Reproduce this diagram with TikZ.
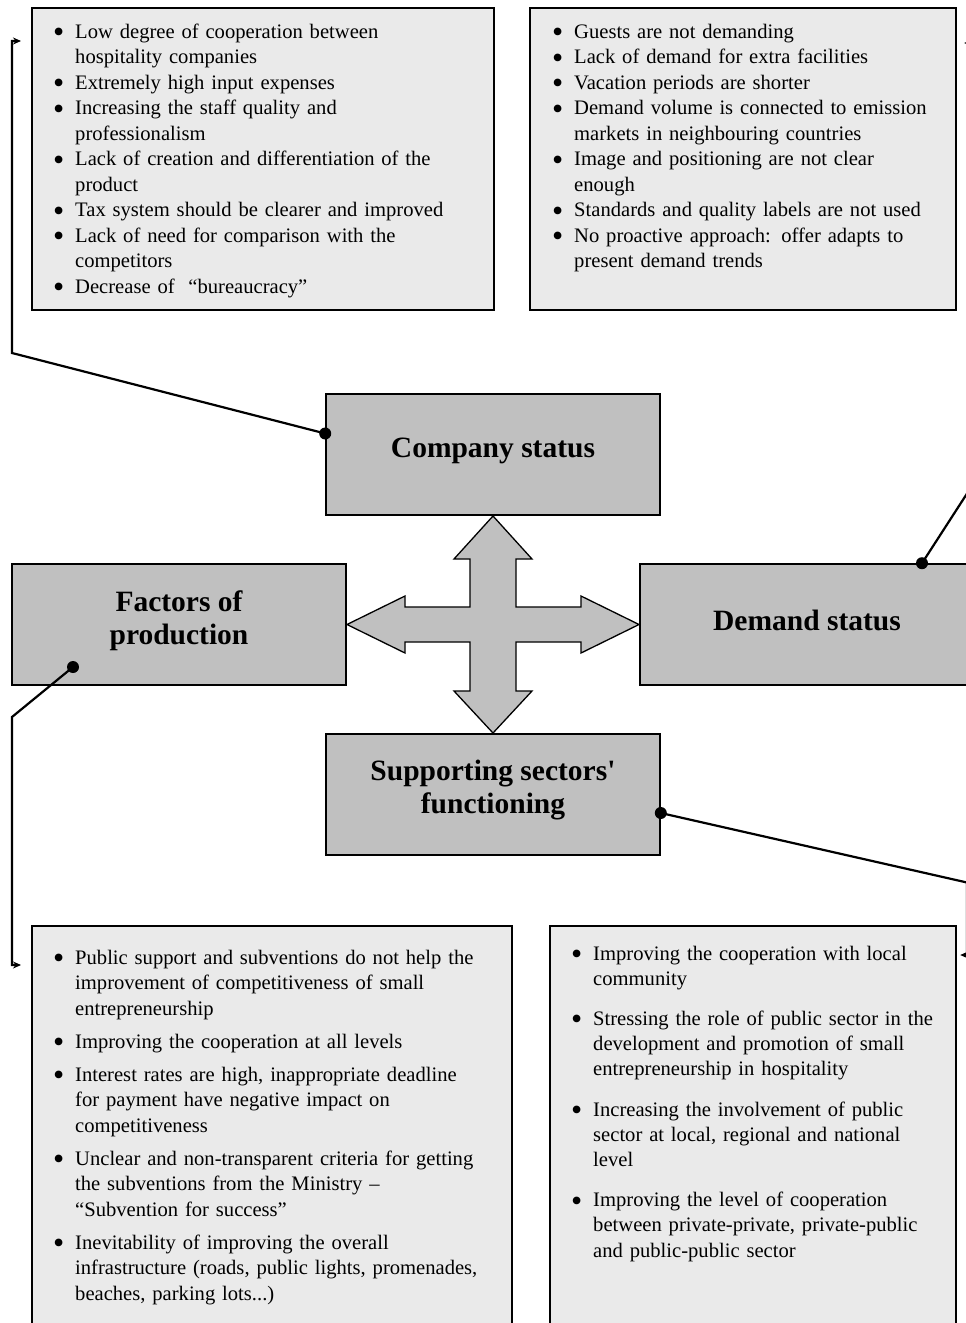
\documentclass[tikz,border=0pt]{standalone}
\usepackage{graphicx}
\usepackage{fontspec}
\setmainfont{Liberation Serif}
\usetikzlibrary{arrows.meta}
\definecolor{boxgray}{RGB}{234,234,234}
\definecolor{headgray}{RGB}{192,192,192}
\newcommand\bodyfont{\fontsize{20.6}{25.5}\selectfont}
\newcommand\headfont{\bfseries\fontsize{29.5}{33}\selectfont}
\newcommand\bitem[1]{\hangindent=22pt\hangafter=1\noindent
  \hbox to 22pt{\raisebox{-4.5pt}{\scalebox{1.55}{\textbullet}}\hfil}#1\par}

\begin{document}
\begin{tikzpicture}[x=1pt,y=-1pt,
    listbox/.style={draw,line width=2.2pt,fill=boxgray,anchor=north west,inner sep=0pt},
    items/.style={anchor=base west,inner sep=0pt,text width=#1,font=\bodyfont},
    headbox/.style={draw,line width=1.6pt,fill=headgray,minimum width=334pt,minimum height=121pt,inner sep=0pt,
      label={[font=\headfont,align=center,yshift=4pt]center:#1}},
    link/.style={line width=2.2pt},
    tip/.style={-{Stealth[length=8pt,width=7pt]}}]
  \useasboundingbox (0,0) rectangle (966,1323);
  \clip (0,0) rectangle (966,1323);

  % four list boxes
  \node[listbox,minimum width=462pt,minimum height=302pt] (compbox) at (31,7) {};
  \node[listbox,minimum width=426pt,minimum height=302pt] (demandbox) at (529,7) {};
  \node[listbox,minimum width=480pt,minimum height=430pt] (prodbox) at (31,925) {};
  \node[listbox,minimum width=406pt,minimum height=430pt] (suppbox) at (549,925) {};

  \node[items=440pt] (compitems) at (53,38) {\raggedright
    \bitem{Low degree of cooperation between\newline hospitality companies}
    \bitem{Extremely high input expenses}
    \bitem{Increasing the staff quality and\newline professionalism}
    \bitem{Lack of creation and differentiation of the\newline product}
    \bitem{Tax system should be clearer and improved}
    \bitem{Lack of need for comparison with the\newline competitors}
    \bitem{Decrease of \ “bureaucracy”}};
  \node[items=410pt] (demanditems) at (552,38) {\raggedright
    \bitem{Guests are not demanding}
    \bitem{Lack of demand for extra facilities}
    \bitem{Vacation periods are shorter}
    \bitem{Demand volume is connected to emission\newline markets in neighbouring countries}
    \bitem{Image and positioning are not clear\newline enough}
    \bitem{Standards and quality labels are not used}
    \bitem{No proactive approach: offer adapts to\newline present demand trends}};
  \node[items=460pt] (proditems) at (53,964) {\raggedright\setlength\parskip{7.5pt}%
    \bitem{Public support and subventions do not help the\newline improvement of competitiveness of small\newline entrepreneurship}
    \bitem{Improving the cooperation at all levels}
    \bitem{Interest rates are high, inappropriate deadline\newline for payment have negative impact on\newline competitiveness}
    \bitem{Unclear and non-transparent criteria for getting\newline the subventions from the Ministry –\newline “Subvention for success”}
    \bitem{Inevitability of improving the overall\newline infrastructure (roads, public lights, promenades,\newline beaches, parking lots...)}};
  \node[items=390pt] (suppitems) at (571,960) {\raggedright\fontsize{20.6}{25.2}\selectfont\setlength\parskip{15pt}%
    \bitem{Improving the cooperation with local\newline community}
    \bitem{Stressing the role of public sector in the\newline development and promotion of small\newline entrepreneurship in hospitality}
    \bitem{Increasing the involvement of public\newline sector at local, regional and national\newline level}
    \bitem{Improving the level of cooperation\newline between private-private, private-public\newline and public-public sector}};

  % the four status boxes
  \node[headbox={Company status}] (comp) at (493,454.5) {};
  \node[headbox={Factors of\\production}] (prod) at (179,624.5) {};
  \node[headbox={Demand status}] (demand) at (807,624.5) {};
  \node[headbox={Supporting sectors\textquotesingle\\functioning}] (supp) at (493,794.5) {};

  % cross arrow between them
  \draw[line width=1.3pt,fill=headgray,line join=miter] (493,516) -- (532,559) -- (516,559) -- (516,607) -- (581,607) -- (581,596)
    -- (639,624.5) -- (581,653) -- (581,642) -- (516,642) -- (516,691) -- (532,691) -- (493,733) -- (454,691) -- (470,691)
    -- (470,642) -- (405,642) -- (405,653) -- (347,624.5) -- (405,596) -- (405,607) -- (470,607) -- (470,559) -- (454,559) -- cycle;

  % connectors
  \coordinate (compdot) at ([yshift=21pt]comp.west);
  \coordinate (demanddot) at ([xshift=115pt]demand.north);
  \coordinate (proddot) at ([xshift=-106pt,yshift=-42.5pt]prod.center);
  \coordinate (suppdot) at ([yshift=-18.5pt]supp.east);
  \draw[link,tip] (compdot) -- (12,353) -- (12,41) -- ([xshift=-10pt,yshift=-34pt]compbox.north west);
  \draw[link,tip] (demanddot) -- (968,492) -- (968,43) -- ([xshift=7pt,yshift=-36pt]demandbox.north east);
  \draw[link,tip] (proddot) -- (12,717) -- (12,965) -- ([xshift=-10pt,yshift=-40pt]prodbox.north west);
  \draw[link,tip] (suppdot) -- (967,882.5) -- (967,955) -- ([xshift=3pt,yshift=-30pt]suppbox.north east);
  \foreach \p in {compdot,demanddot,proddot,suppdot}
    \fill (\p) circle (6pt);
\end{tikzpicture}
\end{document}
